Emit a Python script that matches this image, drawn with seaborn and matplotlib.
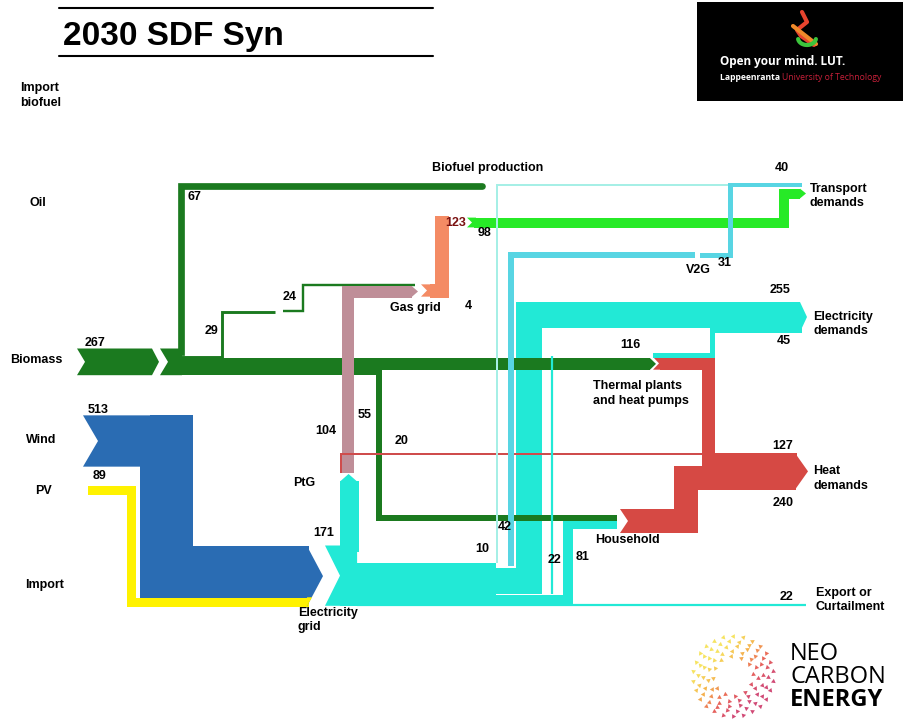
import numpy as np
import pandas as pd
import seaborn as sns
import matplotlib.pyplot as plt
from matplotlib.colors import LinearSegmentedColormap

# ---- energy flows (2030 SDF Syn) ----
biomass = 267
biomass_out = [67, 29, 116, 55]          # biofuel prod., gasification, thermal plants, household
gasified = 24
wind, pv = 513, 89
grid_out = [171, 10, 42, 255, 22, 81, 22]  # PtG, transport, V2G, el. demand, heat pumps, household, export
ptg_gas, ptg_heat = 104, 20
gas_out, gas_other = 123, 4
synfuel = 98
v2g_back, transport_el = 31, 40
thermal_el, thermal_heat = 45, 127
household_heat = 240

DGREEN = '#1b7a1f'
LGREEN = '#27ea27'
CYAN = '#22e9d6'
CYAN2 = '#58d5e3'
PALE = '#a6efe6'
BLUE = '#2a6cb3'
YELLOW = '#fff200'
MAUVE = '#bf8e98'
SALMON = '#f48b64'
RED = '#d64944'

sns.set_theme(style='white')
plt.rcParams['font.family'] = ['Liberation Sans', 'DejaVu Sans']
plt.rcParams['text.color'] = 'black'

DPI = 100
S = 0.1          # pixels per unit of flow
PT = 72 / DPI
fig = plt.figure(figsize=(9.17, 7.2), dpi=DPI)
ax = fig.add_axes([0, 0, 1, 1])
Z = [2]


def band(pts, value, color, cap='butt', min_px=0):
    Z[0] += 1
    w = max(value * S, min_px)
    df = pd.DataFrame(pts, columns=['x', 'y'])
    sns.lineplot(data=df, x='x', y='y', sort=False, estimator=None, color=color,
                 linewidth=w * PT, solid_joinstyle='miter', solid_capstyle=cap,
                 antialiased=(w < 3 or cap != 'butt'), ax=ax, zorder=Z[0])


def poly(pts, color):
    Z[0] += 1
    xs, ys = zip(*pts)
    ax.fill(xs, ys, color=color, lw=0, zorder=Z[0])


def notch_block(x0, x1, top, bot, depth, color):
    poly([(x0, top), (x1, top), (x1, bot), (x0, bot), (x0 + depth, (top + bot) / 2)], color)


def tip(x, top, bot, depth, color):
    poly([(x, top), (x + depth, (top + bot) / 2), (x, bot)], color)


def stack(top, values):
    w = np.array(values) * S
    edges = top + np.concatenate([[0], np.cumsum(w)])
    return (edges[:-1] + edges[1:]) / 2, edges[-1]


# ---- wind + PV into the grid ----
mix_top = 546.0
(wind_c, pv_c), mix_bot = stack(mix_top, [wind, pv])
wind_head = 441
band([(150, wind_head), (140 + wind * S / 2, wind_head), (140 + wind * S / 2, wind_c), (308, wind_c)], wind, BLUE)
notch_block(83, 152, wind_head - wind * S / 2, wind_head + wind * S / 2, 15, BLUE)
band([(88, 490), (127 + pv * S / 2, 490), (127 + pv * S / 2, pv_c), (308, pv_c)], pv, YELLOW)
tip(307, mix_top, mix_bot, 16, BLUE)
yl = mix_top + wind * S
poly([(307, yl), (312, yl), (307, mix_bot)], YELLOW)

# ---- electricity grid ----
grid_top = 545.5
gc, grid_bot = stack(grid_top, grid_out)
band([(357, gc[3]), (528.5, gc[3]), (528.5, 314.75), (800, 314.75)], grid_out[3], CYAN)
band([(357, gc[5]), (567.5, gc[5]), (567.5, 524), (617, 524)], grid_out[5], CYAN)
band([(357, gc[6]), (806, gc[6])], grid_out[6], CYAN)
notch_block(325, 340 + grid_out[0] * S, grid_top, grid_bot, 15, CYAN)
ptg_x = 340 + grid_out[0] * S / 2
band([(ptg_x, grid_top + 5), (ptg_x, 481)], grid_out[0], CYAN)
poly([(340, 481.5), (ptg_x, 474), (340 + grid_out[0] * S, 481.5)], CYAN)

# ---- biomass ----
bio_top = 348.5
bc, bio_bot = stack(bio_top, biomass_out)
notch_block(77, 152, bio_top, bio_bot, 8, DGREEN)
tip(152, bio_top, bio_bot, 7, DGREEN)
notch_block(160, 182, bio_top, bio_bot, 8, DGREEN)
band([(170, bc[0]), (181, bc[0]), (181, 186), (482, 186)], biomass_out[0], DGREEN, cap='round')
band([(170, bc[1]), (222, bc[1]), (222, 312), (275, 312)], biomass_out[1], DGREEN)
band([(283, 311), (303, 311), (303, 284.5), (415, 284.5)], gasified, DGREEN)
Z[0] += 1
bus_top = bc[2] - biomass_out[2] * S / 2
ax.fill([175, 380, 380, 175], [bus_top, bus_top, bio_bot, bio_bot], color=DGREEN, lw=0, zorder=Z[0])
band([(170, bc[2]), (650, bc[2])], biomass_out[2], DGREEN)
tip(650, bc[2] - biomass_out[2] * S / 2, bc[2] + biomass_out[2] * S / 2, 6, DGREEN)
band([(170, bc[3]), (379, bc[3]), (379, 517.5), (617, 517.5)], biomass_out[3], DGREEN)

# ---- power to gas, gas grid, synfuel ----
band([(347.5, 473), (347.5, 291.5), (412, 291.5)], ptg_gas, MAUVE)
tip(412, 291.5 - ptg_gas * S / 2, 291.5 + ptg_gas * S / 2, 6, MAUVE)
band([(341, 473), (341, 453.5), (703, 453.5)], ptg_heat, '#cf4c4c')
gas_x = 435.5 + gas_out * S / 2
notch_block(421, 433, 290.5 - gas_out * S / 2, 290.5 + gas_out * S / 2, 6, SALMON)
band([(430, 290.5), (gas_x, 290.5), (gas_x, 216)], gas_out, SALMON)
notch_block(467, 476, 222.5 - synfuel * S / 2, 222.5 + synfuel * S / 2, 5, LGREEN)
band([(474, 222.5), (784, 222.5), (784, 193.5), (800, 193.5)], synfuel, LGREEN)
tip(800, 193.5 - synfuel * S / 2, 193.5 + synfuel * S / 2, 6, LGREEN)

# ---- thin grid flows drawn over the buses ----
band([(497, gc[1]), (497, 185), (728, 185)], grid_out[1], PALE, min_px=2)
band([(728, 184.5), (802, 184.5)], transport_el, CYAN2)
band([(511, gc[2]), (511, 255), (695, 255)], grid_out[2], CYAN2)
band([(700, 255), (729.5, 255), (729.5, 186)], v2g_back, CYAN2)
band([(552, gc[4]), (552, 356)], grid_out[4], CYAN)
Z[0] += 1
ax.fill([340, 496, 496, 340], [gc[1] - 0.5, gc[1] - 0.5, grid_bot, grid_bot], color=CYAN, lw=0, zorder=Z[0])

# ---- thermal plants and household ----
th_top = 357
th_c = th_top + thermal_heat * S / 2
heat_top = 453
hh_c_top = heat_top + thermal_heat * S
band([(660, th_c), (702 + thermal_heat * S / 2, th_c), (702 + thermal_heat * S / 2, heat_top + thermal_heat * S / 2),
      (796, heat_top + thermal_heat * S / 2)], thermal_heat, RED)
notch_block(653, 662, th_top, th_top + thermal_heat * S, 6, RED)
hh_x = 673.5 + household_heat * S / 2
band([(630, 521), (hh_x, 521), (hh_x, hh_c_top + household_heat * S / 2), (796, hh_c_top + household_heat * S / 2)],
     household_heat, RED)
notch_block(620, 632, 521 - household_heat * S / 2, 521 + household_heat * S / 2, 8, RED)
tip(795, heat_top, hh_c_top + household_heat * S, 13, RED)
band([(653, 355), (712, 355), (712, 327.5 + thermal_el * S / 2), (801, 327.5 + thermal_el * S / 2)], thermal_el, CYAN)
tip(800, 302, 327.5 + thermal_el * S, 7, CYAN)

# ---- labels ----
names = [("Import\nbiofuel", 20, 95.5), ("Oil", 30, 203), ("Biomass", 10, 360), ("Wind", 26, 440),
         ("PV", 35, 491), ("Import", 25, 585), ("Biofuel production", 432, 168),
         ("Transport\ndemands", 810, 196), ("Electricity\ndemands", 813, 324), ("Heat\ndemands", 813, 478.5),
         ("Export or\nCurtailment", 816, 600), ("Gas grid", 390, 308), ("Thermal plants\nand heat pumps", 593, 393.5),
         ("Household", 595, 540), ("PtG", 293, 483), ("V2G", 686, 270), ("Electricity\ngrid", 298, 620)]
for txt, x, y in names:
    ax.text(x, y, txt, fontsize=9, fontweight='bold', va='center', ha='left', linespacing=1.3, zorder=100)

numbers = [(biomass_out[0], 187, 197), (biomass_out[1], 205, 331), (gasified, 283, 297), (biomass, 85, 343),
           (wind, 88, 410), (pv, 93, 476), (synfuel, 478, 233), (gas_other, 465, 306),
           (transport_el, 775, 168), (v2g_back, 718, 263), (grid_out[3], 770, 290), (thermal_el, 777, 341),
           (biomass_out[2], 620, 345), (thermal_heat, 772, 446), (household_heat, 773, 503), (grid_out[6], 780, 597),
           (grid_out[5], 576, 557), (grid_out[4], 548, 560), (grid_out[1], 475, 549), (grid_out[2], 498, 527),
           (grid_out[0], 313, 533), (ptg_gas, 315, 431), (biomass_out[3], 358, 415), (ptg_heat, 395, 441)]
for v, x, y in numbers:
    ax.text(x, y, str(v), fontsize=9, fontweight='bold', va='center', ha='left', zorder=100)
ax.text(445, 223, str(gas_out), fontsize=9, fontweight='bold', va='center', ha='left', color='#7a1010', zorder=100)

# ---- title ----
ax.plot([59, 433], [8, 8], color='black', lw=1.5)
ax.plot([59, 433], [56, 56], color='black', lw=1.5)
ax.text(63, 36, "2030 SDF Syn", fontsize=24, fontweight='bold', va='center', ha='left')

# ---- LUT logo ----
ax.fill([697, 903, 903, 697], [2, 2, 101, 101], color='black', lw=0, zorder=50)
ax.plot([802, 807, 797, 801, 814], [12, 22, 30, 36, 45], color='#e8442e', lw=3, zorder=51)
ax.plot([793, 816], [26, 44], color='#f08a2a', lw=3, zorder=51)
arc = np.linspace(0.15, np.pi - 0.15, 20)
ax.plot(807 + 9 * np.cos(arc), 38 + 7 * np.sin(arc), color='#3cc43c', lw=3, zorder=51)
ax.text(720, 61, "Open your mind. LUT.", fontsize=8.5, fontweight='bold', color='white',
        family=['Open Sans', 'DejaVu Sans'], va='center', ha='left', zorder=52)
t1 = ax.text(720, 77, "Lappeenranta ", fontsize=6.2, fontweight='bold', color='white',
             family=['Open Sans', 'DejaVu Sans'], va='center', ha='left', zorder=52)
ax.annotate("University of Technology", xy=(1, 0.5), xycoords=t1, va='center', ha='left',
            fontsize=6.2, color='#c8203a', family=['Open Sans', 'DejaVu Sans'], zorder=52)

# ---- NEO CARBON ENERGY logo ----
cmap = LinearSegmentedColormap.from_list('neo', ['#f5df45', '#f3a52f', '#e5493d', '#c92a5e'])
cx, cy = 733, 676
for r, n, off in [(20, 12, 0.1), (25, 15, 0.35), (30, 18, 0.05), (35, 22, 0.25), (40, 26, 0.12)]:
    for a in np.linspace(0, 2 * np.pi, n, endpoint=False) + off:
        x, y = cx + r * np.cos(a), cy - r * np.sin(a)
        t = ((x - cx) + (y - cy)) / 80 + 0.5
        ax.scatter([x], [y], marker=(3, 0, np.degrees(a)), s=15, color=cmap(np.clip(t, 0, 1)),
                   alpha=0.85, lw=0, zorder=60)
ax.text(790, 654, "NEO", fontsize=17, family=['Open Sans', 'DejaVu Sans'], va='center', ha='left')
ax.text(790, 677, "CARBON", fontsize=17, family=['Open Sans', 'DejaVu Sans'], va='center', ha='left')
ax.text(790, 700, "ENERGY", fontsize=17, fontweight='bold', family=['Open Sans', 'DejaVu Sans'],
        va='center', ha='left')

ax.set_xlim(0, 917)
ax.set_ylim(720, 0)
ax.axis('off')
fig.savefig('out.png', dpi=DPI)
